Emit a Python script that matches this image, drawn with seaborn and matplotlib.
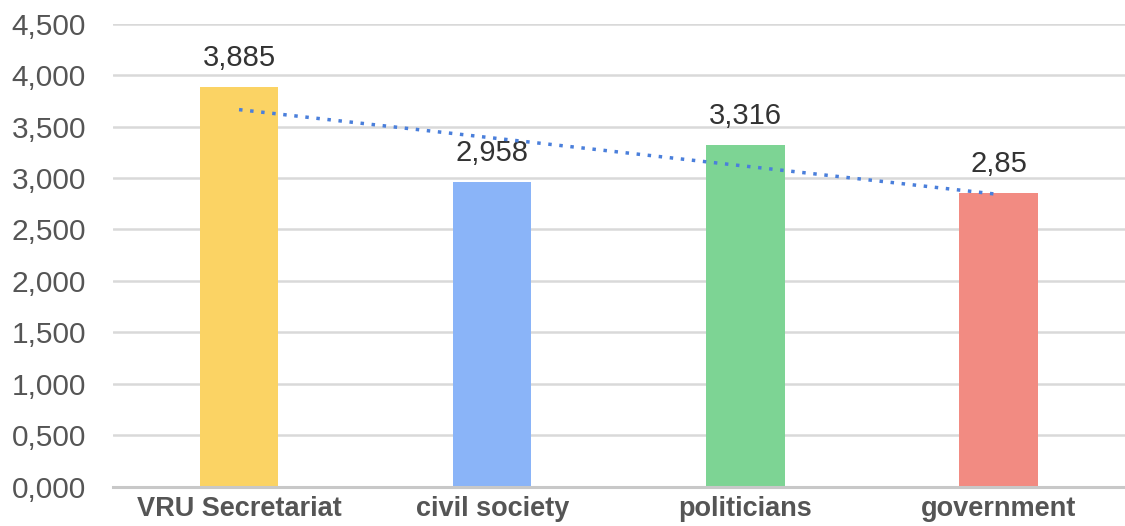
import matplotlib
matplotlib.use("Agg")
import matplotlib.pyplot as plt
import seaborn as sns
import numpy as np
import pandas as pd
from matplotlib.ticker import FuncFormatter

categories = ["VRU Secretariat", "civil society", "politicians", "government"]
values = [3.885, 2.958, 3.316, 2.85]
value_labels = ["3,885", "2,958", "3,316", "2,85"]
colors = ["#FBD364", "#8AB4F8", "#7DD494", "#F28B82"]
yticks = [0, 0.5, 1.0, 1.5, 2.0, 2.5, 3.0, 3.5, 4.0, 4.5]

sns.set_theme(style="white")
plt.rcParams["font.family"] = ["Liberation Sans", "DejaVu Sans"]

df = pd.DataFrame({"category": categories, "value": values, "pos": np.arange(len(categories))})

fig = plt.figure(figsize=(11.25, 5.26), dpi=100)
ax = fig.add_axes([0.1, 0.075, 0.9, 0.88])

sns.barplot(data=df, x="category", y="value", hue="category", palette=colors,
            width=0.31, saturation=1, legend=False, ax=ax, zorder=2, linewidth=0)

for cont, lab in zip(ax.containers, value_labels):
    ax.bar_label(cont, labels=[lab], padding=11, fontsize=21, color="#333333")

sns.regplot(data=df, x="pos", y="value", scatter=False, ci=None, truncate=True,
            line_kws=dict(color="#4A7FDB", linestyle=(0, (1, 2.2)), linewidth=2.5, zorder=3),
            ax=ax)

ax.set_xlim(-0.5, 3.5)
ax.set_ylim(0, 4.5)
ax.set_yticks(yticks)
ax.yaxis.set_major_formatter(FuncFormatter(lambda v, p: f"{v:.3f}".replace(".", ",")))
ax.grid(axis="y", color="#D9D9D9", linewidth=1.8, zorder=0)
ax.set_axisbelow(True)
for s in ["left", "right", "top"]:
    ax.spines[s].set_visible(False)
ax.spines["bottom"].set_color("#C8C8C8")
ax.spines["bottom"].set_linewidth(2.2)
ax.tick_params(axis="y", labelsize=21.5, labelcolor="#555555", length=0, pad=19)
ax.tick_params(axis="x", labelsize=19.5, labelcolor="#555555", length=0, pad=7)
for t in ax.get_xticklabels():
    t.set_fontweight("bold")
ax.set_xlabel("")
ax.set_ylabel("")

fig.savefig("out.png", dpi=100)
